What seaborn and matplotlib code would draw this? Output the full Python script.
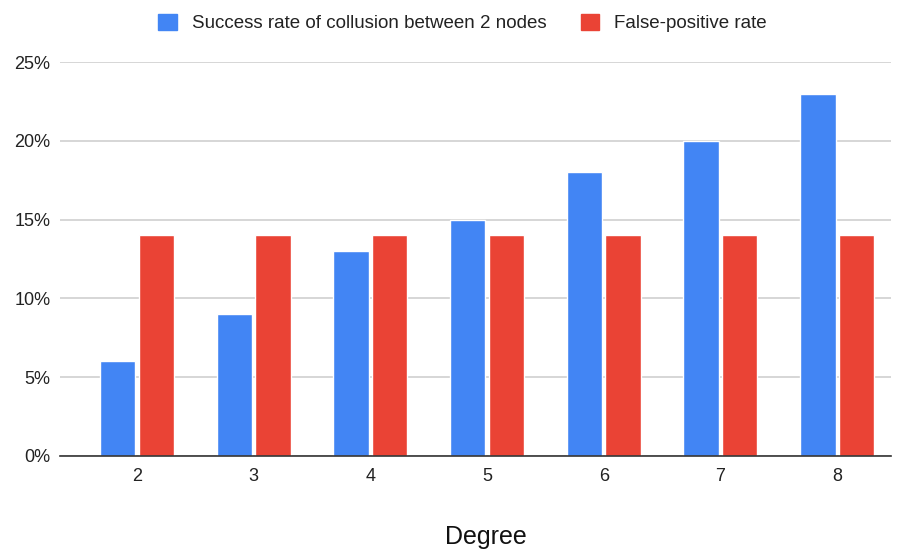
import matplotlib
matplotlib.use("Agg")
import matplotlib.pyplot as plt
import seaborn as sns
import pandas as pd
from matplotlib.ticker import FuncFormatter
from matplotlib.patches import Patch

degrees = ["2", "3", "4", "5", "6", "7", "8"]
success_rate = [6, 9, 13, 15, 18, 20, 23]
false_positive = [14, 14, 14, 14, 14, 14, 14]
series_names = ["Success rate of collusion between 2 nodes", "False-positive rate"]
colors = ["#4285F4", "#EA4335"]

df = pd.DataFrame({
    "Degree": degrees * 2,
    "value": success_rate + false_positive,
    "series": [series_names[0]] * len(degrees) + [series_names[1]] * len(degrees),
})

sns.set_theme(style="white")
plt.rcParams["font.family"] = ["Liberation Sans", "DejaVu Sans"]

fig = plt.figure(figsize=(9.02, 5.49), dpi=100)
ax = fig.add_axes([0.0665, 0.1694, 0.921, 0.7176])

sns.barplot(data=df, x="Degree", y="value", hue="series", palette=colors,
            saturation=1, width=0.66, gap=0.08, ax=ax, legend=False)

ax.set_ylim(0, 25)
ax.set_yticks([0, 5, 10, 15, 20, 25])
ax.yaxis.set_major_formatter(FuncFormatter(lambda v, p: f"{int(v)}%"))
ax.set_xlim(-0.66, 6.46)
ax.grid(axis="y", color="#d0d0d0", linewidth=1.2)
ax.set_axisbelow(True)
for s in ["top", "right", "left"]:
    ax.spines[s].set_visible(False)
ax.spines["bottom"].set_color("#333333")
ax.spines["bottom"].set_linewidth(1.2)
ax.tick_params(axis="both", length=0, labelsize=13, labelcolor="#222222")
ax.tick_params(axis="x", pad=9)
ax.tick_params(axis="y", pad=7)
ax.set_ylabel("")
ax.set_xlabel("Degree", fontsize=18, color="#111111")
ax.xaxis.set_label_coords(0.513, -0.205)
ax.xaxis.label.set_verticalalignment("center")

handles = [Patch(facecolor=c, edgecolor=c) for c in colors]
fig.legend(handles, series_names, loc="center", bbox_to_anchor=(0.513, 0.958),
           ncol=2, frameon=False, fontsize=13.5, handlelength=1.0, handleheight=1.0,
           columnspacing=1.8, handletextpad=0.8, labelcolor="#222222")

fig.savefig("out.png", dpi=100)
